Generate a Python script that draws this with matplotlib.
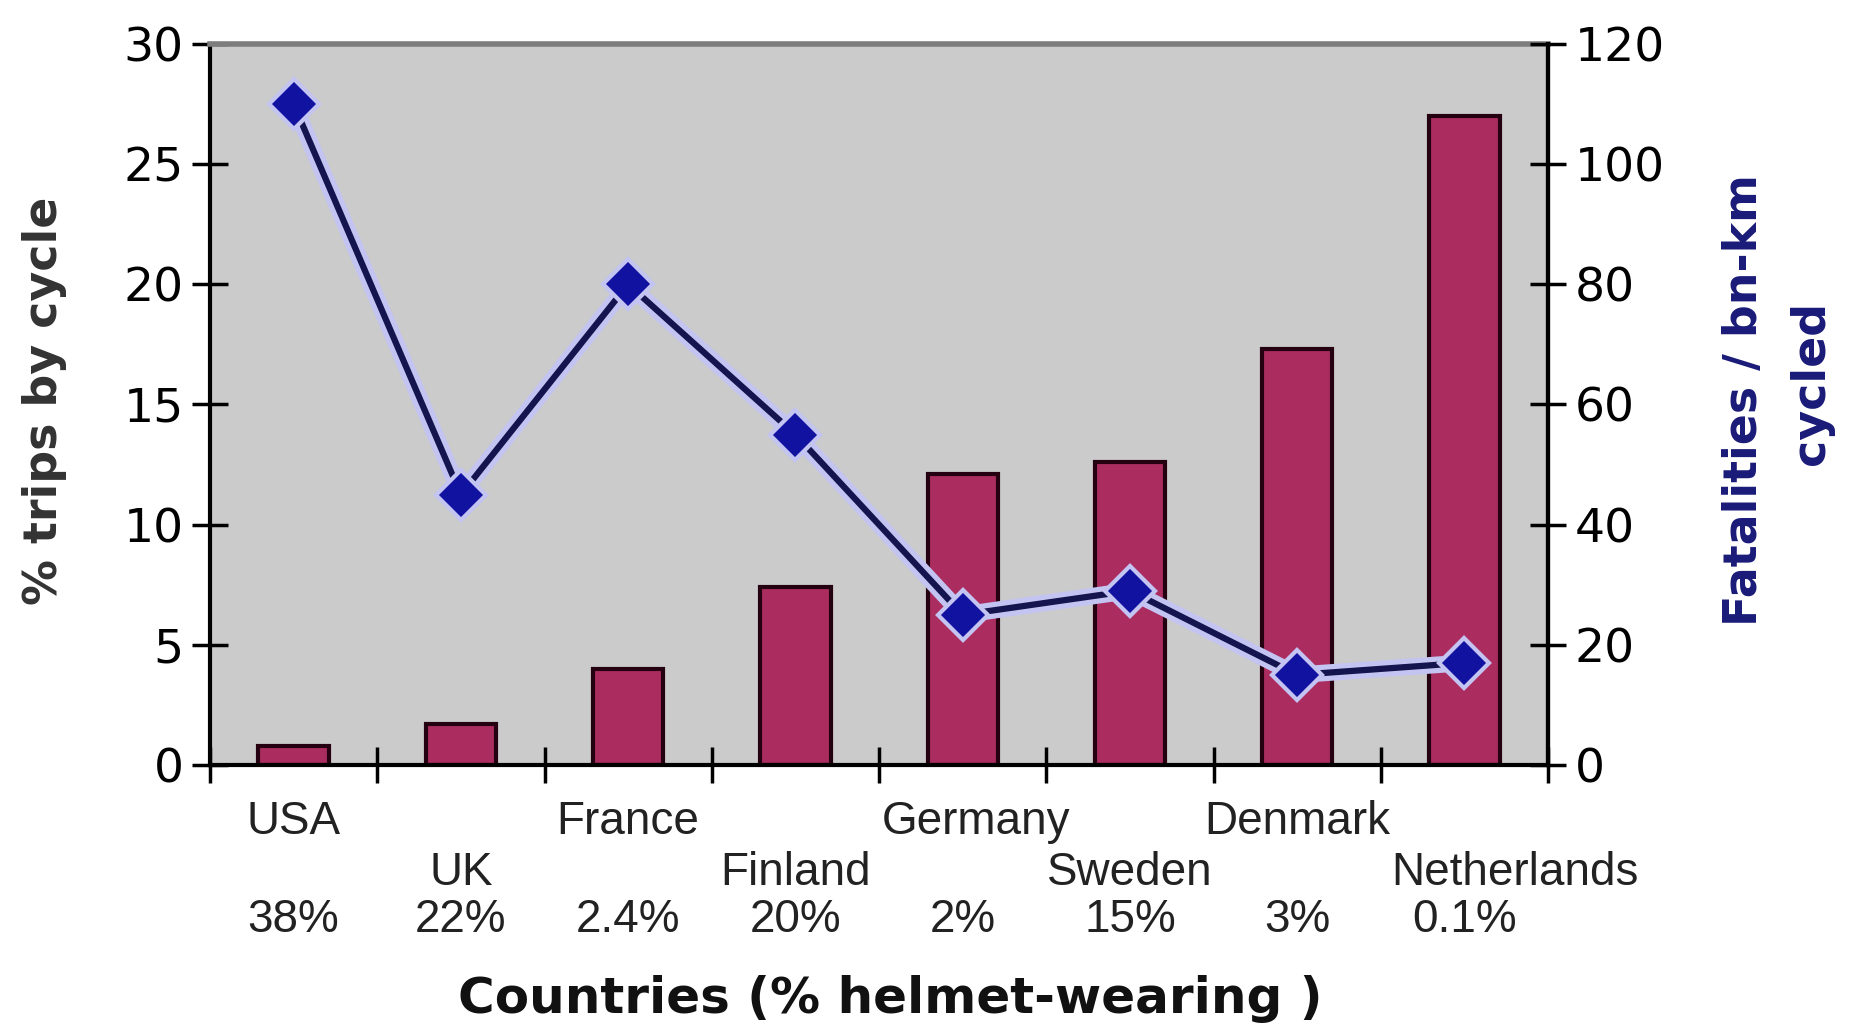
import matplotlib
matplotlib.use("Agg")
import matplotlib.pyplot as plt
import matplotlib.transforms as mtransforms

# Countries, split over two staggered label rows
countries = ['USA', 'UK', 'France', 'Finland', 'Germany', 'Sweden', 'Denmark', 'Netherlands']
helmet_pct = ['38%', '22%', '2.4%', '20%', '2%', '15%', '3%', '0.1%']

# % of trips made by cycle (bars, left axis)
trips_by_cycle = [0.8, 1.7, 4.0, 7.4, 12.1, 12.6, 17.3, 27.0]

# Fatalities per billion km cycled (line, right axis)
fatalities = [110, 45, 80, 55, 25, 29, 15, 17]

left_ticks = [0, 5, 10, 15, 20, 25, 30]
right_ticks = [0, 20, 40, 60, 80, 100, 120]

BG = '#cbcbcb'
BAR = '#ab2d60'
BAR_EDGE = '#240010'
LINE = '#14144e'
MARKER = '#1212a0'
HALO = '#c4c4f2'
NAVY = '#1a1a78'

fig = plt.figure(figsize=(18.5, 10.27), dpi=100)
ax = fig.add_axes([0.1135, 0.2551, 0.7233, 0.7021])
ax.set_facecolor(BG)

x = list(range(len(countries)))
ax.bar(x, trips_by_cycle, width=0.42, color=BAR, edgecolor=BAR_EDGE, linewidth=3, zorder=2)

ax.set_xlim(-0.5, len(countries) - 0.5)
ax.set_ylim(0, 30)
ax.set_yticks(left_ticks)
ax.set_xticks([i - 0.5 for i in range(len(countries) + 1)])
ax.set_xticklabels([])
ax.tick_params(axis='y', direction='inout', length=26, width=2.5, labelsize=34, pad=6)
ax.tick_params(axis='x', direction='inout', length=26, width=2.5)
for lab in ax.get_yticklabels():
    lab.set_family('DejaVu Sans')

for side in ['left', 'bottom', 'right']:
    ax.spines[side].set_color('black')
    ax.spines[side].set_linewidth(3)
ax.spines['top'].set_color('#7d7d7d')
ax.spines['top'].set_linewidth(4)

# Fatalities on the secondary axis
ax2 = ax.twinx()
ax2.set_ylim(0, 120)
ax2.set_yticks(right_ticks)
ax2.tick_params(axis='y', direction='inout', length=26, width=2.5, labelsize=34, pad=6)
for lab in ax2.get_yticklabels():
    lab.set_family('DejaVu Sans')
for side in ['left', 'bottom', 'top']:
    ax2.spines[side].set_visible(False)
ax2.spines['right'].set_color('black')
ax2.spines['right'].set_linewidth(3)

ax2.plot(x, fatalities, color=HALO, linewidth=12, solid_capstyle='round', zorder=3)
ax2.plot(x, fatalities, color=LINE, linewidth=4.5, zorder=4,
         marker='D', markersize=25, markerfacecolor=MARKER,
         markeredgecolor=HALO, markeredgewidth=3)

# Category labels under the axis: staggered names, then helmet-wearing rates
trans = mtransforms.blended_transform_factory(ax.transData, fig.transFigure)
name_shift = {'Netherlands': 0.3, 'Germany': 0.08}
for i, (name, pct) in enumerate(zip(countries, helmet_pct)):
    row_y = 0.2 if i % 2 == 0 else 0.150
    ax.text(i + name_shift.get(name, 0), row_y, name, transform=trans,
            ha='center', va='center', fontsize=33, family='Liberation Sans', color='#222222')
    ax.text(i, 0.104, pct, transform=trans, ha='center', va='center',
            fontsize=33, family='Liberation Sans', color='#222222')

fig.text(0.481, 0.027, 'Countries (% helmet-wearing )', ha='center', va='center',
         fontsize=36, fontweight='bold', family='DejaVu Sans', color='#111111')

fig.text(0.024, 0.61, '% trips by cycle', rotation=90, ha='center', va='center',
         fontsize=33, fontweight='bold', family='DejaVu Sans', color='#333333')
fig.text(0.943, 0.61, 'Fatalities / bn-km', rotation=90, ha='center', va='center',
         fontsize=33, fontweight='bold', family='DejaVu Sans', color=NAVY)
fig.text(0.979, 0.627, 'cycled', rotation=90, ha='center', va='center',
         fontsize=33, fontweight='bold', family='DejaVu Sans', color=NAVY)

fig.savefig('out.png', dpi=100, facecolor='white')
